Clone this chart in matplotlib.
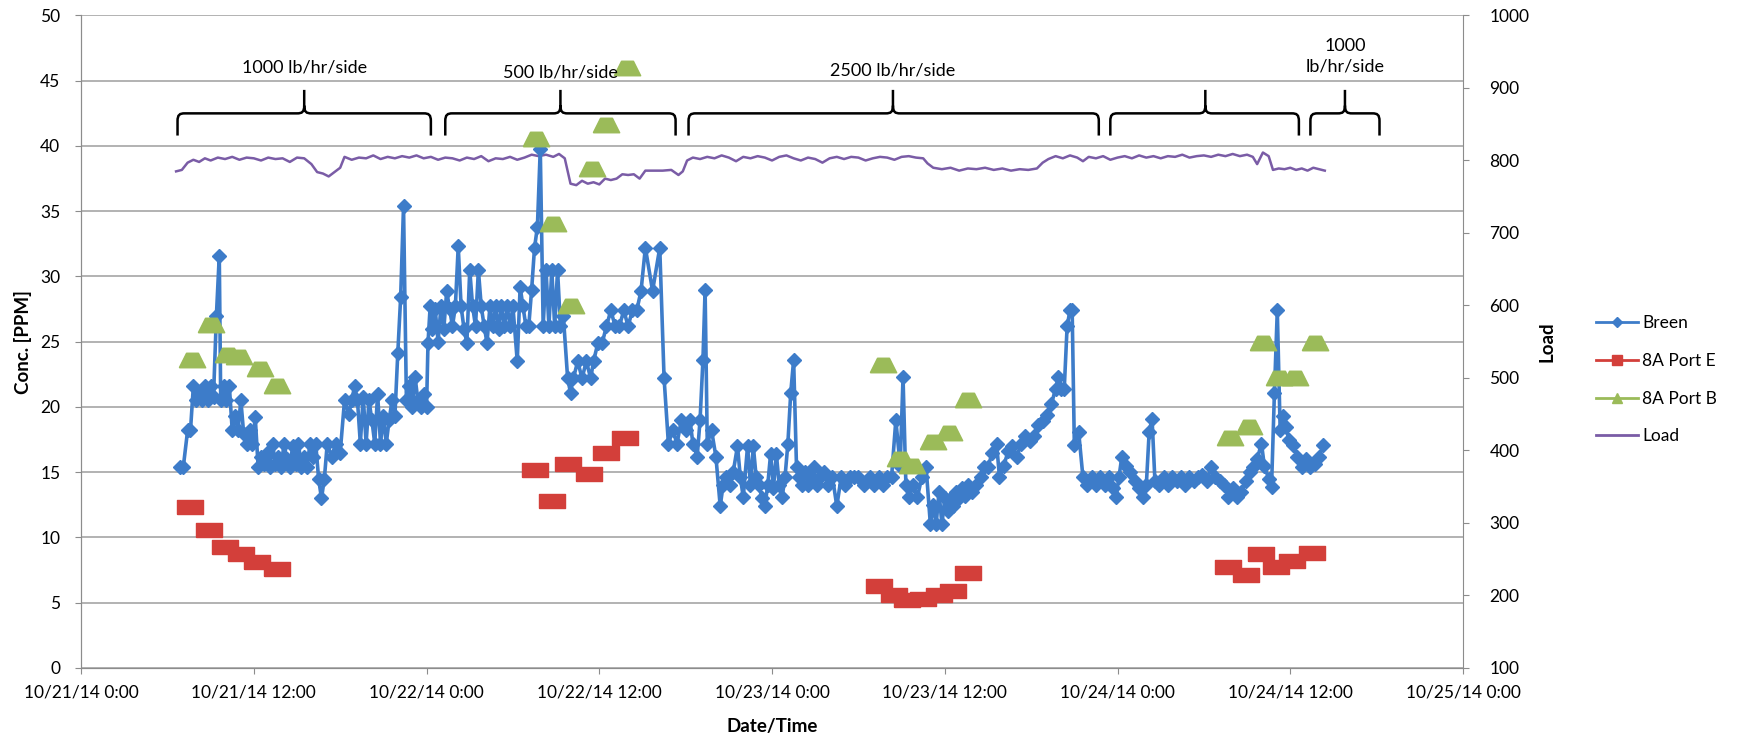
import numpy as np
import pandas as pd
import matplotlib
matplotlib.use('Agg')
import matplotlib.pyplot as plt
import matplotlib.dates as mdates
from matplotlib.path import Path
from matplotlib.patches import PathPatch
from matplotlib.lines import Line2D
from matplotlib.ticker import FuncFormatter, MultipleLocator

plt.rcParams['font.family'] = ['Lato', 'DejaVu Sans']

# hours after 10/21/14 0:00
breen_hr = [6.9, 7.1, 7.4, 7.6, 7.8, 8.0, 8.2, 8.4, 8.6, 8.8,
            9.0, 9.2, 9.4, 9.6, 9.7, 9.9, 10.1, 10.3, 10.5, 10.7,
            10.9, 11.1, 11.3, 11.5, 11.7, 11.9, 12.1, 12.3, 12.5, 12.7,
            12.9, 13.1, 13.3, 13.5, 13.7, 13.9, 14.1, 14.3, 14.5, 14.7,
            14.9, 15.1, 15.3, 15.5, 15.7, 15.9, 16.1, 16.3, 16.5, 16.7,
            16.9, 17.1, 17.4, 17.7, 18.0, 18.3, 18.6, 18.8, 19.0, 19.2,
            19.4, 19.6, 19.8, 20.0, 20.2, 20.4, 20.6, 20.8, 21.0, 21.2,
            21.4, 21.6, 21.8, 22.0, 22.2, 22.4, 22.6, 22.8, 23.0, 23.2,
            23.4, 23.6, 23.8, 24.0,
            24.1, 24.25, 24.4, 24.6, 24.8, 25.0, 25.2, 25.4, 25.6, 25.8,
            26.0, 26.2, 26.4, 26.6, 26.8, 27.0, 27.2, 27.4, 27.6, 27.8,
            28.0, 28.2, 28.4, 28.6, 28.8, 29.0, 29.2, 29.4, 29.6, 29.8,
            30.0, 30.3, 30.5, 30.7, 30.9, 31.1, 31.3, 31.5, 31.7, 31.9,
            32.1, 32.3, 32.5, 32.7, 32.9, 33.1, 33.3, 33.5, 33.8, 34.0,
            34.2, 34.5, 34.8, 35.1, 35.4, 35.6, 35.9, 36.2, 36.5, 36.8,
            37.1, 37.4, 37.7, 38.0, 38.3, 38.6, 38.9, 39.2, 39.7, 40.2,
            40.5, 40.8,
            41.1, 41.4, 41.7, 42.0, 42.3, 42.5, 42.8, 43.0, 43.2, 43.35,
            43.5, 43.8, 44.1, 44.4, 44.6, 44.8, 45.1, 45.3, 45.6, 45.8,
            46.0, 46.3, 46.5, 46.7, 46.9, 47.1, 47.3, 47.5, 47.7, 47.9,
            48.1, 48.3, 48.5, 48.7, 48.9, 49.1, 49.3, 49.5, 49.7, 49.9,
            50.1, 50.3, 50.5, 50.7, 50.9, 51.1, 51.3, 51.6, 51.9, 52.2,
            52.5, 52.8, 53.1, 53.4, 53.7, 54.0, 54.4, 54.8, 55.1, 55.4,
            55.7, 56.0, 56.3, 56.6, 56.9, 57.1, 57.3, 57.5, 57.8, 58.1,
            58.4, 58.7, 59.0, 59.2,
            59.4, 59.6, 59.8, 60.0, 60.2, 60.4, 60.6, 60.8, 61.0, 61.2,
            61.4, 61.6, 61.9, 62.2, 62.5, 62.7, 63.0, 63.3, 63.6, 63.8,
            64.1, 64.4, 64.7, 65.0, 65.3, 65.6, 65.9, 66.2, 66.5, 66.8,
            67.1, 67.4, 67.7, 67.9, 68.1, 68.3, 68.5, 68.7, 68.85, 69.0,
            69.3, 69.6, 69.9, 70.2, 70.5, 70.8, 71.1, 71.4, 71.7, 71.9,
            72.1, 72.3, 72.6, 72.9, 73.2, 73.5, 73.8, 74.0, 74.2, 74.4,
            74.6, 74.9, 75.2, 75.5, 75.8, 76.1, 76.4, 76.7, 77.0, 77.3,
            77.6,
            77.9, 78.2, 78.5, 78.8, 79.1, 79.4, 79.7, 80.0, 80.3, 80.6,
            80.9, 81.2, 81.4, 81.7, 82.0, 82.2, 82.5, 82.7, 82.9, 83.1,
            83.3, 83.5, 83.7, 83.9, 84.2, 84.5, 84.8, 85.1, 85.4, 85.7,
            86.0, 86.3]
breen_ppm = [15.4, 15.4, 18.2, 18.2, 21.6, 20.5, 21.0, 20.5, 21.6, 20.5,
             21.6, 20.8, 27.0, 31.6, 20.5, 21.6, 20.5, 21.6, 18.2, 19.3,
             18.2, 20.5, 17.9, 17.2, 18.2, 17.2, 19.2, 15.4, 16.2, 15.6,
             16.5, 15.4, 17.2, 15.6, 16.2, 15.4, 17.2, 16.0, 15.4, 17.0,
             15.6, 17.2, 15.4, 16.2, 15.4, 17.2, 16.2, 17.2, 14.5, 13.0,
             14.5, 17.2, 16.2, 17.2, 16.5, 20.5, 19.5, 20.5, 21.6, 20.5,
             17.2, 20.8, 17.2, 20.5, 19.0, 17.2, 21.0, 17.2, 19.3, 17.2,
             19.0, 20.5, 19.3, 24.1, 28.4, 35.4, 20.5, 21.6, 20.0, 22.3,
             20.5, 20.0, 21.0, 20.0,
             24.9, 27.7, 26.0, 27.5, 25.0, 27.7, 26.0, 28.9, 27.5, 26.2,
             27.7, 32.3, 27.7, 26.0, 24.9, 30.5, 27.7, 26.2, 30.5, 27.7,
             26.2, 24.9, 27.7, 26.2, 27.7, 26.0, 27.7, 26.2, 27.7, 26.2,
             27.7, 23.5, 29.2, 27.7, 26.2, 26.2, 29.0, 32.2, 33.8, 39.8,
             26.2, 30.5, 26.2, 30.5, 26.2, 30.5, 26.2, 27.0, 22.2, 21.1,
             22.2, 23.5, 22.2, 23.5, 22.2, 23.5, 24.9, 24.9, 26.2, 27.4,
             26.2, 26.2, 27.4, 26.2, 27.4, 27.4, 28.9, 32.2, 28.9, 32.2,
             22.2, 17.2,
             18.2, 17.2, 19.0, 18.2, 19.0, 17.2, 16.2, 19.0, 23.6, 29.0,
             17.2, 18.2, 16.2, 12.4, 14.0, 14.6, 14.0, 15.0, 17.0, 14.6,
             13.1, 17.0, 14.0, 17.0, 14.6, 14.0, 13.0, 12.4, 14.0, 16.4,
             13.8, 16.4, 14.0, 13.1, 14.6, 17.2, 21.1, 23.6, 15.4, 14.6,
             14.0, 15.0, 14.0, 14.6, 15.4, 14.0, 14.6, 15.0, 14.0, 14.6,
             12.4, 14.6, 14.0, 14.6, 14.6, 14.6, 14.0, 14.6, 14.0, 14.6,
             14.0, 14.6, 14.6, 19.0, 15.5, 22.3, 14.0, 13.1, 14.0, 13.1,
             14.6, 15.4, 11.0, 12.5,
             11.0, 13.5, 11.0, 13.0, 12.0, 13.0, 12.4, 13.5, 13.0, 13.8,
             13.2, 14.0, 13.5, 14.0, 14.6, 15.4, 15.4, 16.5, 17.2, 14.6,
             15.5, 16.6, 17.0, 16.2, 17.2, 17.8, 17.4, 17.8, 18.6, 18.9,
             19.4, 20.2, 21.4, 22.3, 21.4, 21.4, 26.2, 27.4, 27.4, 17.1,
             18.1, 14.6, 14.0, 14.6, 14.0, 14.6, 14.0, 14.6, 13.8, 13.1,
             14.6, 16.2, 15.5, 15.0, 14.3, 13.8, 13.1, 14.0, 18.1, 19.1,
             14.3, 14.0, 14.6, 14.0, 14.6, 14.3, 14.6, 14.0, 14.6, 14.3,
             14.6,
             14.8, 14.3, 15.4, 14.6, 14.3, 14.0, 13.1, 13.8, 13.1, 13.5,
             14.3, 15.0, 15.4, 16.0, 17.2, 15.5, 14.5, 13.9, 21.1, 27.4,
             18.2, 19.3, 18.5, 17.5, 17.1, 16.2, 15.4, 16.0, 15.4, 15.6,
             16.2, 17.1]

porte_hr = [7.6, 8.9, 10.0, 11.1, 12.2, 13.6,
            31.5, 32.7, 33.8, 35.3, 36.5, 37.8,
            55.4, 56.5, 57.4, 58.5, 59.6, 60.6, 61.6,
            79.7, 80.9, 82.0, 83.0, 84.1, 85.5]
porte_ppm = [12.3, 10.6, 9.3, 8.7, 8.1, 7.6,
             15.2, 12.8, 15.6, 14.9, 16.5, 17.6,
             6.3, 5.6, 5.2, 5.3, 5.6, 5.9, 7.3,
             7.7, 7.1, 8.7, 7.7, 8.2, 8.8]

portb_hr = [7.7, 9.0, 10.2, 11.0, 12.4, 13.6,
            31.6, 32.8, 34.0, 35.5, 36.5, 37.9,
            55.7, 56.9, 57.7, 59.2, 60.3, 61.6,
            79.8, 81.1, 82.1, 83.2, 84.3, 85.7]
portb_ppm = [23.6, 26.3, 24.0, 23.8, 22.9, 21.6,
             40.5, 34.0, 27.7, 38.2, 41.6, 46.0,
             23.2, 16.0, 15.5, 17.3, 18.0, 20.5,
             17.6, 18.5, 24.9, 22.2, 22.2, 24.9]

load_hr = [6.6, 7.0, 7.4, 7.8, 8.2, 8.6, 9.0, 9.5, 10.0, 10.5,
           11.0, 11.5, 12.0, 12.5, 13.0, 13.5, 14.0, 14.5, 15.0, 15.5,
           16.0, 16.4, 16.8, 17.2, 17.6, 18.0, 18.3, 18.8, 19.3, 19.8,
           20.3, 20.8, 21.3, 21.8, 22.3, 22.8, 23.3, 23.8, 24.3, 24.8,
           25.3, 25.8, 26.3, 26.8, 27.3, 27.8, 28.3, 28.8, 29.3, 29.8,
           30.3, 30.8, 31.3, 31.8, 32.3, 32.8, 33.2, 33.6, 34.0, 34.4,
           34.8, 35.2, 35.6, 36.0, 36.4, 36.8, 37.2, 37.6, 38.0, 38.4,
           38.8, 39.2, 39.8, 40.4, 41.0, 41.5, 41.8, 42.1, 42.5, 43.0,
           43.5, 44.0, 44.5, 45.0, 45.5, 46.0, 46.5, 47.0, 47.5, 48.0,
           48.5, 49.0, 49.5, 50.0, 50.5, 51.0, 51.5, 52.0, 52.5, 53.0,
           53.5, 54.0, 54.5, 55.0, 55.5, 56.0, 56.5, 57.0, 57.5, 58.0,
           58.5, 58.8, 59.2, 59.8, 60.4, 61.0, 61.6, 62.2, 62.8, 63.4,
           64.0, 64.6, 65.2, 65.8, 66.4, 66.8, 67.2, 67.7, 68.2, 68.7,
           69.2, 69.6, 70.0, 70.5, 71.0, 71.5, 72.0, 72.5, 73.0, 73.5,
           74.0, 74.5, 75.0, 75.5, 76.0, 76.5, 77.0, 77.5, 78.0, 78.5,
           79.0, 79.5, 80.0, 80.5, 81.0, 81.4, 81.7, 82.1, 82.5, 82.8,
           83.2, 83.6, 84.0, 84.4, 84.8, 85.2, 85.6, 86.0, 86.4]
load_val = [785, 787, 797, 801, 798, 803, 800, 804, 802, 805,
            801, 804, 803, 800, 804, 802, 803, 798, 804, 803,
            795, 784, 782, 778, 784, 790, 805, 801, 804, 803,
            807, 802, 805, 803, 806, 804, 807, 803, 805, 801,
            804, 803, 800, 804, 802, 806, 799, 803, 802, 805,
            801, 804, 808, 806, 808, 805, 809, 803, 768, 766,
            772, 768, 770, 767, 775, 773, 775, 781, 780, 781,
            775, 786, 786, 786, 787, 780, 785, 800, 804, 802,
            805, 803, 807, 804, 799, 805, 803, 806, 804, 800,
            805, 807, 803, 800, 804, 802, 797, 803, 805, 802,
            805, 804, 800, 803, 805, 804, 801, 805, 806, 804,
            803, 796, 790, 788, 790, 786, 789, 788, 790, 787,
            789, 786, 788, 787, 789, 797, 802, 806, 803, 807,
            804, 799, 805, 803, 806, 801, 804, 806, 803, 807,
            804, 806, 803, 806, 805, 808, 804, 806, 807, 805,
            808, 806, 809, 806, 808, 805, 795, 811, 806, 787,
            789, 788, 790, 787, 789, 786, 790, 788, 786]

# brace spans (start, end, tip) in hours and labels
brace_spans = [(6.7, 24.3, 15.5), (25.3, 41.3, 33.3), (42.2, 70.7, 56.4),
               (71.5, 84.6, 78.1), (85.4, 90.2, 87.8)]
brace_labels = ['1000 lb/hr/side', '500 lb/hr/side', '2500 lb/hr/side', '', '1000\nlb/hr/side']
label_y = [46.0, 45.6, 45.8, 0, 46.9]

t0 = pd.Timestamp('2014-10-21')
def to_dt(h):
    return t0 + pd.to_timedelta(np.asarray(h), unit='h')

fig = plt.figure(figsize=(17.4, 7.38), dpi=100)
ax = fig.add_axes([0.0466, 0.0949, 0.7942, 0.8841])
ax2 = ax.twinx()

blue = '#3d7cc9'
red = '#d33f3a'
green = '#9bbb59'
purple = '#7a5ca6'

rect = [(-1, -0.55), (1, -0.55), (1, 0.55), (-1, 0.55), (-1, -0.55)]
trap = [(-1, -0.55), (1, -0.55), (0.45, 0.55), (-0.45, 0.55), (-1, -0.55)]

ax2.plot(to_dt(load_hr), load_val, color=purple, lw=1.8, zorder=2)
ax2.set_ylim(100, 1000)
ax2.yaxis.set_major_locator(MultipleLocator(100))

ax.set_zorder(ax2.get_zorder() + 1)
ax.patch.set_visible(False)

ax.plot(to_dt(breen_hr), breen_ppm, color=blue, lw=2.6, marker='D', ms=7,
        mfc=blue, mec=blue, zorder=4)
ax.plot(to_dt(porte_hr), porte_ppm, ls='none', marker=rect, ms=19,
        mfc=red, mec=red, zorder=3)
ax.plot(to_dt(portb_hr), portb_ppm, ls='none', marker=trap, ms=19,
        mfc=green, mec=green, zorder=5)

ax.set_ylim(0, 50)
ax.yaxis.set_major_locator(MultipleLocator(5))
ax.set_xlim(t0, t0 + pd.Timedelta(days=4))
ax.xaxis.set_major_locator(mdates.HourLocator(byhour=[0, 12]))
ax.xaxis.set_major_formatter(FuncFormatter(
    lambda v, p: (lambda d: f"{d.month}/{d.day}/{d:%y} {d.hour}:{d:%M}")(mdates.num2date(v))))
ax.grid(axis='y', color='#a6a6a6', lw=1.2)
ax.set_axisbelow(True)

for a in (ax, ax2):
    for s in a.spines.values():
        s.set_color('#8c8c8c')
    a.spines['top'].set_visible(False)
ax.spines['right'].set_visible(False)
ax.tick_params(axis='both', labelsize=12.5, color='#8c8c8c', length=4)
ax.tick_params(axis='y', pad=11)
ax.tick_params(axis='x', pad=8)
ax2.tick_params(axis='y', labelsize=12.5, color='#8c8c8c', length=4, pad=15)

# braces
for (h0, h1, hm), lab, ly in zip(brace_spans, brace_labels, label_y):
    x0, x1, xm = [mdates.date2num(t0 + pd.Timedelta(hours=h)) for h in (h0, h1, hm)]
    yb, ye, yt = 40.8, 42.5, 44.3
    dx = 0.5 / 24
    verts = [(x0, yb), (x0, ye - 0.6), (x0, ye - 0.1), (x0 + dx * 0.3, ye), (x0 + dx, ye),
             (xm - dx, ye), (xm - dx * 0.3, ye), (xm, ye + 0.1), (xm, ye + 0.6), (xm, yt),
             (xm, ye + 0.6), (xm, ye + 0.1), (xm + dx * 0.3, ye), (xm + dx, ye),
             (x1 - dx, ye), (x1 - dx * 0.3, ye), (x1, ye - 0.1), (x1, ye - 0.6), (x1, yb)]
    codes = [Path.MOVETO, Path.LINETO, Path.CURVE4, Path.CURVE4, Path.CURVE4,
             Path.LINETO, Path.CURVE4, Path.CURVE4, Path.CURVE4, Path.LINETO,
             Path.MOVETO, Path.CURVE4, Path.CURVE4, Path.CURVE4,
             Path.LINETO, Path.CURVE4, Path.CURVE4, Path.CURVE4, Path.LINETO]
    ax.add_patch(PathPatch(Path(verts, codes), fill=False, ec='black', lw=1.8, zorder=6))
    if lab:
        ax.text(xm, ly, lab, ha='center', va='center', fontsize=13, linespacing=1.35, zorder=6)

fig.text(0.0135, 0.537, 'Conc. [PPM]', rotation=90, ha='center', va='center',
         fontsize=13.5, fontweight='bold')
fig.text(0.889, 0.537, 'Load', rotation=90, ha='center', va='center',
         fontsize=13.5, fontweight='bold')
fig.text(0.4437, 0.015, 'Date/Time', ha='center', va='center', fontsize=13.5, fontweight='bold')

handles = [Line2D([], [], color=blue, lw=2, marker='D', ms=5),
           Line2D([], [], color=red, lw=2, marker='s', ms=7),
           Line2D([], [], color=green, lw=2, marker='^', ms=7),
           Line2D([], [], color=purple, lw=2)]
fig.legend(handles, ['Breen', '8A Port E', '8A Port B', 'Load'], loc='upper left',
           bbox_to_anchor=(0.9084, 0.594), frameon=False, fontsize=12.5,
           labelspacing=1.25, handlelength=2.4, handletextpad=0.25)

fig.savefig('out.png', dpi=100, facecolor='white')
